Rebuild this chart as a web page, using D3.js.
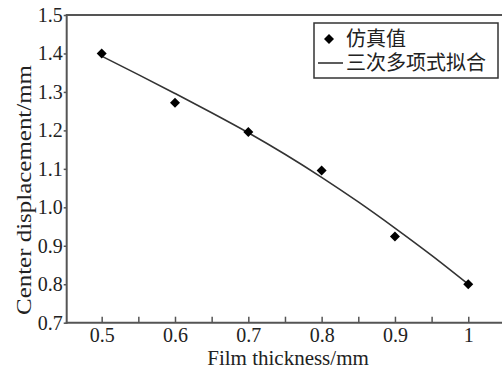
<!DOCTYPE html>
<html>
<head>
<meta charset="utf-8">
<script src="https://cdn.jsdelivr.net/npm/d3@7"></script>
<style>
  body { margin: 0; background: #fff; }
  text { fill: #222; }
</style>
</head>
<body>
<svg id="chart" width="502" height="369"></svg>
<script>
// simulated points (film thickness, center displacement)
const thickness = [0.5, 0.6, 0.7, 0.8, 0.9, 1.0];
const displacement = [1.40, 1.272, 1.196, 1.096, 0.924, 0.80];

// cubic fit curve
const fitX = [0.5, 0.55, 0.6, 0.65, 0.7, 0.75, 0.8, 0.85, 0.9, 0.95, 1.0];
const fitY = [1.393, 1.345, 1.296, 1.246, 1.194, 1.138, 1.078, 1.014, 0.946, 0.875, 0.80];

const xMajor = [0.5, 0.6, 0.7, 0.8, 0.9, 1.0];
const xLabels = ['0.5', '0.6', '0.7', '0.8', '0.9', '1'];
const xMinor = [0.55, 0.65, 0.75, 0.85, 0.95];
const yTicks = [0.7, 0.8, 0.9, 1.0, 1.1, 1.2, 1.3, 1.4, 1.5];

const legendNames = ['仿真值', '三次多项式拟合'];

const plot = {'left': 66.7, 'right': 502, 'top': 15, 'bottom': 322.7};
const axisColor = '#555';
const serif = '"Liberation Serif", "Times New Roman", serif';
const cjk = '"Liberation Serif", "Noto Sans CJK SC", serif';

const svg = d3.select('#chart');

const x = d3.scaleLinear().domain([0.4523, 1.046]).range([plot.left, plot.right]);
const y = d3.scaleLinear().domain([0.7, 1.5]).range([plot.bottom, plot.top]);

// x axis, ticks pointing inward
const xAxis = svg.append('g')
    .attr('transform', 'translate(0,' + plot.bottom + ')')
    .call(d3.axisBottom(x)
        .tickValues(xMajor.concat(xMinor))
        .tickSizeInner(-6)
        .tickSizeOuter(0)
        .tickPadding(5)
        .tickFormat(function(d) {
            const i = xMajor.indexOf(d);
            return i < 0 ? '' : xLabels[i];
        }));

// y axis, short outward ticks
const yAxis = svg.append('g')
    .attr('transform', 'translate(' + plot.left + ',0)')
    .call(d3.axisLeft(y)
        .tickValues(yTicks)
        .tickSizeInner(3)
        .tickSizeOuter(0)
        .tickPadding(1)
        .tickFormat(d3.format('.1f')));

[xAxis, yAxis].forEach(function(a) {
    a.attr('font-family', serif).attr('font-size', 20);
    a.select('.domain').attr('stroke', axisColor).attr('stroke-width', 2);
    a.selectAll('.tick line').attr('stroke', axisColor).attr('stroke-width', 1.5);
    a.selectAll('.tick text').attr('fill', '#222');
});
xAxis.select('.domain').attr('d', 'M' + (plot.left - 1) + ',0H' + plot.right);
yAxis.select('.domain').attr('d', 'M0,' + (plot.bottom + 1) + 'V' + plot.top);

// top frame line
svg.append('line')
    .attr('x1', plot.left - 1).attr('x2', plot.right)
    .attr('y1', plot.top).attr('y2', plot.top)
    .attr('stroke', axisColor).attr('stroke-width', 2);

// fit curve
const line = d3.line()
    .x(function(d, i) { return x(fitX[i]); })
    .y(function(d) { return y(d); })
    .curve(d3.curveMonotoneX);

svg.append('path')
    .datum(fitY)
    .attr('d', line)
    .attr('fill', 'none')
    .attr('stroke', '#333')
    .attr('stroke-width', 1.6);

// simulated points
const diamond = d3.symbol().type(d3.symbolSquare).size(50);
svg.append('g').selectAll('path')
    .data(thickness)
    .enter().append('path')
    .attr('d', diamond)
    .attr('transform', function(d, i) {
        return 'translate(' + x(d) + ',' + y(displacement[i]) + ') rotate(45)';
    })
    .attr('fill', '#000');

// axis titles
svg.append('text')
    .attr('x', 288).attr('y', 365)
    .attr('text-anchor', 'middle')
    .attr('font-family', serif)
    .attr('font-size', 21)
    .text('Film thickness/mm');

svg.append('text')
    .attr('transform', 'translate(31,190) rotate(-90)')
    .attr('text-anchor', 'middle')
    .attr('font-family', serif)
    .attr('font-size', 22)
    .attr('textLength', 250)
    .attr('lengthAdjust', 'spacingAndGlyphs')
    .text('Center displacement/mm');

// legend
const legend = svg.append('g');
legend.append('rect')
    .attr('x', 314).attr('y', 23)
    .attr('width', 184).attr('height', 55)
    .attr('fill', '#fff')
    .attr('stroke', '#333')
    .attr('stroke-width', 1.5);

legend.append('path')
    .attr('d', diamond)
    .attr('transform', 'translate(329,39) rotate(45)')
    .attr('fill', '#000');

legend.append('line')
    .attr('x1', 318).attr('x2', 343)
    .attr('y1', 63).attr('y2', 63)
    .attr('stroke', '#333').attr('stroke-width', 1.6);

legend.selectAll('text')
    .data(legendNames)
    .enter().append('text')
    .attr('x', 346)
    .attr('y', function(d, i) { return 46 + i * 24; })
    .attr('font-family', cjk)
    .attr('font-size', 20)
    .text(function(d) { return d; });
</script>
</body>
</html>
